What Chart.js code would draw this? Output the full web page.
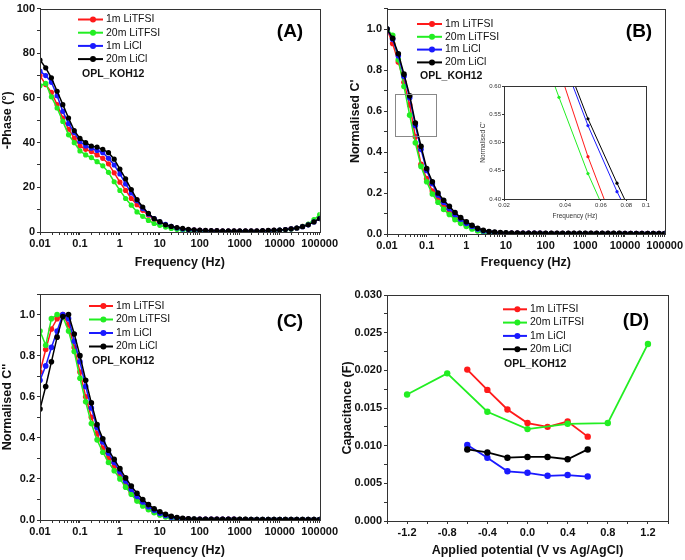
<!DOCTYPE html>
<html>
<head>
<meta charset="utf-8">
<script src="https://cdn.jsdelivr.net/npm/chart.js@4.4.1/dist/chart.umd.min.js"></script>
<style>
body { margin: 0; background: #fff; }
#wrap { position: relative; width: 685px; height: 560px; }
canvas { position: absolute; }
</style>
</head>
<body>
<div id="wrap">
  <canvas id="chartA" width="340" height="280" style="left:0;top:0"></canvas>
  <canvas id="chartB" width="345" height="280" style="left:340px;top:0"></canvas>
  <canvas id="chartInset" width="190" height="145" style="left:470px;top:80px"></canvas>
  <canvas id="chartC" width="340" height="280" style="left:0;top:280px"></canvas>
  <canvas id="chartD" width="345" height="280" style="left:340px;top:280px"></canvas>
</div>
<script>
// ---- data ----
var seriesNames = ['1m LiTFSI', '20m LiTFSI', '1m LiCl', '20m LiCl'];
var seriesColors = ['#ff1a1a', '#22ee22', '#1a1aff', '#000000'];

var freqHz = [
  0.01, 0.0139, 0.0193, 0.0268, 0.0373, 0.0518, 0.072,
  0.1, 0.139, 0.193, 0.268, 0.373, 0.518, 0.72,
  1, 1.39, 1.93, 2.68, 3.73, 5.18, 7.2,
  10, 13.9, 19.3, 26.8, 37.3, 51.8, 72,
  100, 139, 193, 268, 373, 518, 720,
  1000, 1390, 1930, 2680, 3730, 5180, 7200,
  10000, 13900, 19300, 26800, 37300, 51800, 72000,
  100000
];
var decadeTicks = [0.01, 0.1, 1, 10, 100, 1000, 10000, 100000];
var decadeLabels = ['0.01', '0.1', '1', '10', '100', '1000', '10000', '100000'];

// (A) -Phase (deg)
var phaseTFSI1m = [
  70, 66, 62.5, 57, 51, 46, 42,
  38.5, 37, 36, 34.5, 33, 30.5, 26.5,
  22.3, 18.6, 15, 12.2, 9.7, 7.5, 5.6,
  4.2, 3.2, 2.4, 1.8, 1.3, 1, 0.8,
  0.7, 0.6, 0.5, 0.5, 0.4, 0.4, 0.4,
  0.4, 0.4, 0.4, 0.4, 0.5, 0.6, 0.7,
  0.9, 1.1, 1.4, 1.8, 2.5, 3.4, 4.8, 6.5
];
var phaseTFSI20m = [
  65.5, 66.5, 60.5, 55.5, 49.5, 43.5, 40,
  36.3, 34.5, 33.3, 31.5, 29.6, 26.7, 22.5,
  18.6, 15, 12, 9, 7, 5.2, 3.8,
  3, 2.2, 1.6, 1.1, 0.8, 0.6, 0.5,
  0.4, 0.3, 0.3, 0.3, 0.3, 0.3, 0.3,
  0.3, 0.3, 0.3, 0.3, 0.4, 0.5, 0.6,
  0.8, 1, 1.3, 1.8, 2.5, 3.5, 5.5, 7.8
];
var phaseLiCl1m = [
  72, 70, 67, 61, 54, 48.5, 44.5,
  40.5, 38.5, 37.5, 36.5, 35.5, 33, 30,
  26, 21.5, 17.5, 14, 10.5, 8, 6,
  4.5, 3.4, 2.5, 1.8, 1.3, 1, 0.8,
  0.7, 0.6, 0.5, 0.5, 0.4, 0.4, 0.4,
  0.4, 0.4, 0.4, 0.4, 0.5, 0.6, 0.7,
  0.9, 1.1, 1.4, 1.8, 2.4, 3.2, 4.5, 6
];
var phaseLiCl20m = [
  77, 73.5, 69, 63, 57, 51, 45.4,
  41.9, 40, 38.5, 38, 37, 35.5, 32.6,
  28.2, 23.8, 19, 14.5, 11.2, 8.3, 6,
  4.6, 3.2, 2.5, 2, 1.6, 1.2, 1,
  0.8, 0.7, 0.6, 0.6, 0.5, 0.5, 0.5,
  0.5, 0.5, 0.5, 0.5, 0.6, 0.7, 0.8,
  0.9, 1.1, 1.4, 1.8, 2.4, 3.2, 4.5, 6
];

// (B) normalised C'
var cReTFSI1m = [
  1.0, 0.93, 0.84, 0.74, 0.63, 0.475, 0.34,
  0.27, 0.21, 0.17, 0.135, 0.105, 0.08, 0.06,
  0.043, 0.03, 0.019, 0.012, 0.008, 0.006, 0.005,
  0.004, 0.004, 0.003, 0.003, 0.003, 0.003, 0.003,
  0.002, 0.002, 0.002, 0.002, 0.002, 0.002, 0.002,
  0.002, 0.002, 0.002, 0.002, 0.002, 0.002, 0.002,
  0.002, 0.002, 0.002, 0.002, 0.002, 0.002, 0.002, 0.002
];
var cReTFSI20m = [
  1.0, 0.97, 0.85, 0.72, 0.58, 0.445, 0.33,
  0.255, 0.195, 0.155, 0.12, 0.095, 0.07, 0.052,
  0.037, 0.025, 0.015, 0.009, 0.006, 0.004, 0.003,
  0.003, 0.002, 0.002, 0.002, 0.002, 0.002, 0.002,
  0.001, 0.001, 0.001, 0.001, 0.001, 0.001, 0.001,
  0.001, 0.001, 0.001, 0.001, 0.001, 0.001, 0.001,
  0.001, 0.001, 0.001, 0.001, 0.001, 0.001, 0.001, 0.001
];
var cReLiCl1m = [
  1.0, 0.95, 0.87, 0.77, 0.665, 0.53, 0.413,
  0.31, 0.245, 0.19, 0.155, 0.125, 0.095, 0.072,
  0.052, 0.037, 0.024, 0.015, 0.01, 0.007, 0.005,
  0.004, 0.004, 0.003, 0.003, 0.003, 0.003, 0.003,
  0.002, 0.002, 0.002, 0.002, 0.002, 0.002, 0.002,
  0.002, 0.002, 0.002, 0.002, 0.002, 0.002, 0.002,
  0.002, 0.002, 0.002, 0.002, 0.002, 0.002, 0.002, 0.002
];
var cReLiCl20m = [
  1.0, 0.955, 0.88, 0.78, 0.675, 0.542, 0.428,
  0.32, 0.255, 0.2, 0.165, 0.135, 0.105, 0.08,
  0.06, 0.043, 0.028, 0.018, 0.012, 0.009, 0.007,
  0.006, 0.005, 0.005, 0.004, 0.004, 0.004, 0.004,
  0.003, 0.003, 0.003, 0.003, 0.003, 0.003, 0.003,
  0.003, 0.003, 0.003, 0.003, 0.003, 0.003, 0.003,
  0.002, 0.002, 0.002, 0.002, 0.002, 0.002, 0.002, 0.002
];

// (C) normalised C''
var cImTFSI1m = [
  0.72, 0.83, 0.93, 0.98, 1.0, 0.95, 0.84,
  0.72, 0.6, 0.5, 0.42, 0.35, 0.3, 0.26,
  0.22, 0.175, 0.135, 0.1, 0.075, 0.055, 0.04,
  0.028, 0.018, 0.012, 0.008, 0.006, 0.005, 0.004,
  0.004, 0.003, 0.003, 0.003, 0.003, 0.003, 0.003,
  0.002, 0.002, 0.002, 0.002, 0.002, 0.002, 0.002,
  0.002, 0.002, 0.002, 0.002, 0.002, 0.002, 0.002, 0.002
];
var cImTFSI20m = [
  0.92, 0.85, 0.98, 1.0, 0.99, 0.92, 0.82,
  0.69, 0.575, 0.47, 0.39, 0.33, 0.28, 0.24,
  0.2, 0.16, 0.125, 0.092, 0.068, 0.05, 0.035,
  0.024, 0.015, 0.009, 0.005, 0.004, 0.003, 0.003,
  0.002, 0.002, 0.002, 0.002, 0.002, 0.002, 0.002,
  0.002, 0.002, 0.002, 0.002, 0.002, 0.002, 0.002,
  0.002, 0.002, 0.002, 0.002, 0.002, 0.002, 0.002, 0.002
];
var cImLiCl1m = [
  0.68, 0.75, 0.84, 0.92, 1.0, 0.98, 0.87,
  0.77, 0.65, 0.545, 0.45, 0.38, 0.325, 0.28,
  0.235, 0.19, 0.15, 0.115, 0.088, 0.065, 0.047,
  0.033, 0.022, 0.014, 0.009, 0.006, 0.005, 0.004,
  0.004, 0.003, 0.003, 0.003, 0.003, 0.003, 0.003,
  0.002, 0.002, 0.002, 0.002, 0.002, 0.002, 0.002,
  0.002, 0.002, 0.002, 0.002, 0.002, 0.002, 0.002, 0.002
];
var cImLiCl20m = [
  0.54, 0.65, 0.77, 0.89, 0.99, 1.0, 0.905,
  0.8, 0.68, 0.57, 0.465, 0.395, 0.34, 0.295,
  0.25, 0.205, 0.165, 0.13, 0.1, 0.075, 0.055,
  0.04, 0.028, 0.018, 0.012, 0.008, 0.006, 0.005,
  0.004, 0.004, 0.003, 0.003, 0.003, 0.003, 0.003,
  0.003, 0.003, 0.002, 0.002, 0.002, 0.002, 0.002,
  0.002, 0.002, 0.002, 0.002, 0.002, 0.002, 0.002, 0.002
];

// (D) capacitance vs applied potential
var potTFSI1m = [-0.6, -0.4, -0.2, 0.0, 0.2, 0.4, 0.6];
var capTFSI1m = [0.0201, 0.0174, 0.0148, 0.0130, 0.0125, 0.0132, 0.0112];
var potTFSI20m = [-1.2, -0.8, -0.4, 0.0, 0.4, 0.8, 1.2];
var capTFSI20m = [0.0168, 0.0196, 0.0145, 0.0122, 0.0129, 0.0130, 0.0235];
var potLiCl = [-0.6, -0.4, -0.2, 0.0, 0.2, 0.4, 0.6];
var capLiCl1m = [0.0101, 0.0084, 0.0066, 0.0064, 0.0060, 0.0061, 0.0059];
var capLiCl20m = [0.0095, 0.0091, 0.0084, 0.0085, 0.0085, 0.0082, 0.0095];

// ---- helpers ----
Chart.defaults.font.family = "'Liberation Sans', Arial, sans-serif";
Chart.defaults.color = '#111';

var AXIS = '#333';
var FONT = "'Liberation Sans', Arial, sans-serif";

function pts(xs, ys) {
  return xs.map(function(x, i) { return { x: x, y: ys[i] }; });
}

function makeSets(xLists, yLists, lw, r) {
  return yLists.map(function(ys, i) {
    return {
      label: seriesNames[i],
      data: pts(xLists[i], ys),
      borderColor: seriesColors[i],
      backgroundColor: seriesColors[i],
      borderWidth: lw,
      pointRadius: r,
      pointBorderWidth: 0,
      pointBackgroundColor: seriesColors[i],
      tension: 0,
      order: 3 - i
    };
  });
}

// minor ticks of the log axis: 1..9 in every decade
var logTickValues = [];
decadeTicks.forEach(function(d, i) {
  if (i === decadeTicks.length - 1) { logTickValues.push(d); return; }
  for (var m = 1; m <= 9; m++) logTickValues.push(+(d * m).toPrecision(3));
});

function logAxis(height, titlePad) {
  return {
    type: 'logarithmic', min: 0.01, max: 100000,
    afterBuildTicks: function(s) { s.ticks = logTickValues.map(function(v) { return { value: v }; }); },
    afterFit: function(s) { s.height = height; },
    border: { color: AXIS, width: 1 },
    grid: { drawOnChartArea: false, tickLength: 3, color: AXIS },
    ticks: {
      autoSkip: false, maxRotation: 0, minRotation: 0, padding: 2,
      font: { size: 11, weight: 'bold' }, color: '#111',
      callback: function(v) { var k = decadeTicks.indexOf(v); return k < 0 ? '' : decadeLabels[k]; }
    },
    title: { display: true, text: 'Frequency (Hz)', font: { size: 12.5, weight: 'bold' }, color: '#111', padding: { top: 0, bottom: titlePad } }
  };
}

function linAxis(opts) {
  return {
    type: 'linear', min: opts.min, max: opts.max,
    afterFit: function(s) { s.width = opts.width; },
    border: { color: AXIS, width: 1 },
    grid: { drawOnChartArea: false, tickLength: 3, color: AXIS },
    ticks: { stepSize: opts.step, padding: 2, font: { size: 11, weight: 'bold' }, color: '#111', callback: opts.fmt },
    title: { display: true, text: opts.title, font: { size: 12.5, weight: 'bold' }, color: '#111', padding: { top: opts.titlePad, bottom: 0 } }
  };
}

// frame, in-plot legend, sample note and panel tag
var panelDeco = {
  id: 'panelDeco',
  afterDraw: function(chart, args, o) {
    var ctx = chart.ctx, a = chart.chartArea;
    ctx.save();
    ctx.strokeStyle = AXIS;
    ctx.lineWidth = 1;
    ctx.strokeRect(Math.round(a.left) + 0.5, Math.round(a.top) + 0.5, Math.round(a.right - a.left), Math.round(a.bottom - a.top));
    if (o.box) {
      var sx = chart.scales.x, sy = chart.scales.y;
      var x0 = sx.getPixelForValue(o.box[0]), x1 = sx.getPixelForValue(o.box[1]);
      var y0 = sy.getPixelForValue(o.box[3]), y1 = sy.getPixelForValue(o.box[2]);
      ctx.strokeStyle = '#888';
      ctx.strokeRect(Math.round(x0) + 0.5, Math.round(y0) + 0.5, Math.round(x1 - x0), Math.round(y1 - y0));
    }
    if (o.legend) {
      var L = o.legend;
      chart.data.datasets.forEach(function(d, i) {
        var y = L.y + i * L.dy;
        ctx.strokeStyle = d.borderColor;
        ctx.lineWidth = 2;
        ctx.beginPath(); ctx.moveTo(L.x, y); ctx.lineTo(L.x + L.w, y); ctx.stroke();
        ctx.fillStyle = d.borderColor;
        ctx.beginPath(); ctx.arc(L.x + L.w * 0.6, y, 3, 0, Math.PI * 2); ctx.fill();
        ctx.fillStyle = '#111';
        ctx.font = '10.5px ' + FONT;
        ctx.textBaseline = 'middle';
        ctx.textAlign = 'left';
        ctx.fillText(d.label, L.x + L.w + 3, y);
      });
    }
    if (o.note) {
      ctx.fillStyle = '#111';
      ctx.font = 'bold 10.5px ' + FONT;
      ctx.textBaseline = 'middle';
      ctx.textAlign = 'left';
      ctx.fillText('OPL_KOH12', o.note.x, o.note.y);
    }
    if (o.tag) {
      ctx.fillStyle = '#000';
      ctx.font = 'bold 19px ' + FONT;
      ctx.textBaseline = 'middle';
      ctx.textAlign = 'center';
      ctx.fillText(o.tag.text, o.tag.x, o.tag.y);
    }
    ctx.restore();
  }
};

function baseOptions(pad, scales, deco) {
  return {
    responsive: false, animation: false, devicePixelRatio: 1,
    layout: { padding: pad },
    plugins: { legend: { display: false }, tooltip: { enabled: false }, panelDeco: deco },
    scales: scales
  };
}

var freqLists = [freqHz, freqHz, freqHz, freqHz];

// (A)
new Chart(document.getElementById('chartA'), {
  type: 'line',
  data: { datasets: makeSets(freqLists, [phaseTFSI1m, phaseTFSI20m, phaseLiCl1m, phaseLiCl20m], 1.5, 2.6) },
  options: baseOptions({ left: 0, top: 6, right: 19, bottom: 0 }, {
    x: logAxis(48, 10),
    y: linAxis({ min: 0, max: 100, step: 10, width: 40, titlePad: 0, title: '-Phase (\u00b0)',
      fmt: function(v) { return v % 20 === 0 ? String(v) : ''; } })
  }, {
    legend: { x: 78, y: 19.5, w: 25, dy: 13.2 },
    note: { x: 82, y: 74 },
    tag: { text: '(A)', x: 290, y: 32 }
  }),
  plugins: [panelDeco]
});

function normFmt(v) {
  var k = Math.round(v * 10);
  return (k % 2 === 0 && k <= 10) ? (k / 10).toFixed(1) : '';
}

// (B)
new Chart(document.getElementById('chartB'), {
  type: 'line',
  data: { datasets: makeSets(freqLists, [cReTFSI1m, cReTFSI20m, cReLiCl1m, cReLiCl20m], 1.5, 2.8) },
  options: baseOptions({ left: 0, top: 8, right: 17, bottom: 0 }, {
    x: logAxis(46, 10),
    y: linAxis({ min: 0, max: 1.1, step: 0.1, width: 47, titlePad: 8, title: "Normalised C'", fmt: normFmt })
  }, {
    legend: { x: 77, y: 24, w: 25, dy: 12.8 },
    note: { x: 80, y: 76 },
    tag: { text: '(B)', x: 299, y: 32 },
    box: [0.016, 0.17, 0.48, 0.685]
  }),
  plugins: [panelDeco]
});

// (B) inset
new Chart(document.getElementById('chartInset'), {
  type: 'line',
  data: { datasets: makeSets(freqLists, [cReTFSI1m, cReTFSI20m, cReLiCl1m, cReLiCl20m], 1, 1.6) },
  options: baseOptions({ left: 0, top: 6, right: 14, bottom: 0 }, {
    x: {
      type: 'logarithmic', min: 0.02, max: 0.1,
      afterBuildTicks: function(s) { s.ticks = [0.02, 0.04, 0.06, 0.08, 0.1].map(function(v) { return { value: v }; }); },
      afterFit: function(s) { s.height = 26; },
      border: { color: AXIS, width: 0.8 },
      grid: { drawOnChartArea: false, tickLength: 2, color: AXIS },
      ticks: { autoSkip: false, maxRotation: 0, padding: 1, font: { size: 6 }, color: '#333',
        callback: function(v) { return String(v); } },
      title: { display: true, text: 'Frequency (Hz)', font: { size: 6.5 }, color: '#333', padding: { top: 0, bottom: 5 } }
    },
    y: {
      type: 'linear', min: 0.4, max: 0.6,
      afterFit: function(s) { s.width = 34; },
      border: { color: AXIS, width: 0.8 },
      grid: { drawOnChartArea: false, tickLength: 2, color: AXIS },
      ticks: { stepSize: 0.05, padding: 1, font: { size: 6 }, color: '#333',
        callback: function(v) { return v.toFixed(2); } },
      title: { display: true, text: "Normalised C'", font: { size: 6.5 }, color: '#333', padding: { top: 9, bottom: 0 } }
    }
  }, {}),
  plugins: [panelDeco]
});

// (C)
new Chart(document.getElementById('chartC'), {
  type: 'line',
  data: { datasets: makeSets(freqLists, [cImTFSI1m, cImTFSI20m, cImLiCl1m, cImLiCl20m], 1.5, 2.8) },
  options: baseOptions({ left: 0, top: 14, right: 19, bottom: 0 }, {
    x: logAxis(40, 2),
    y: linAxis({ min: 0, max: 1.1, step: 0.1, width: 40, titlePad: 0, title: "Normalised C''", fmt: normFmt })
  }, {
    legend: { x: 89, y: 26, w: 24, dy: 13.5 },
    note: { x: 92, y: 81 },
    tag: { text: '(C)', x: 290, y: 42 }
  }),
  plugins: [panelDeco]
});

// (D)
new Chart(document.getElementById('chartD'), {
  type: 'line',
  data: { datasets: makeSets([potTFSI1m, potTFSI20m, potLiCl, potLiCl], [capTFSI1m, capTFSI20m, capLiCl1m, capLiCl20m], 1.8, 3.2) },
  options: baseOptions({ left: 0, top: 15, right: 17, bottom: 0 }, {
    x: {
      type: 'linear', min: -1.4, max: 1.4,
      afterFit: function(s) { s.height = 39; },
      border: { color: AXIS, width: 1 },
      grid: { drawOnChartArea: false, tickLength: 3, color: AXIS },
      ticks: { stepSize: 0.2, autoSkip: false, maxRotation: 0, padding: 2, font: { size: 11, weight: 'bold' }, color: '#111',
        callback: function(v) { var k = Math.round(v * 10); return (k % 4 === 0 && Math.abs(k) < 14) ? (k / 10).toFixed(1) : ''; } },
      title: { display: true, text: 'Applied potential (V vs Ag/AgCl)', font: { size: 12.5, weight: 'bold' }, color: '#111', padding: { top: 0, bottom: 2 } }
    },
    y: linAxis({ min: 0, max: 0.03, step: 0.0025, width: 47, titlePad: 0, title: 'Capacitance (F)',
      fmt: function(v) { var k = Math.round(v * 400); return k % 2 === 0 ? (k / 400).toFixed(3) : ''; } })
  }, {
    legend: { x: 163, y: 29.3, w: 24, dy: 13.3 },
    note: { x: 164, y: 84 },
    tag: { text: '(D)', x: 296, y: 41 }
  }),
  plugins: [panelDeco]
});
</script>
</body>
</html>
